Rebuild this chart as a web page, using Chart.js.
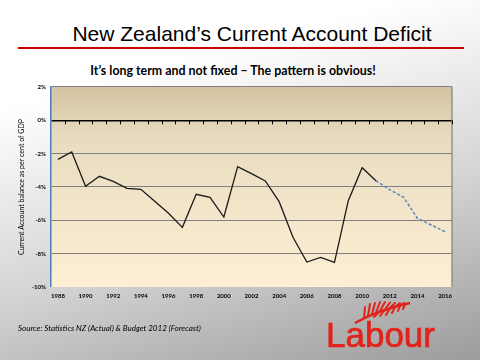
<!DOCTYPE html>
<html><head><meta charset="utf-8">
<script src="https://cdn.jsdelivr.net/npm/chart.js@4.4.0/dist/chart.umd.min.js"></script>
<style>
html,body{margin:0;padding:0;}
body{width:480px;height:360px;overflow:hidden;position:relative;
 background:linear-gradient(165deg,#ffffff 0%,#ffffff 22%,#d6d6d6 60%,#9c9c9c 100%);
 font-family:"Liberation Sans",Arial,sans-serif;}
#title{position:absolute;left:0;width:504px;top:22px;text-align:center;font-size:21px;color:#000;}
#rule{position:absolute;left:18px;width:446px;top:47px;height:2px;background:#cc0000;}
#sub{position:absolute;left:0;width:466px;top:63px;text-align:center;font-family:Lato,"Open Sans",sans-serif;font-weight:bold;font-size:12.4px;color:#000;}
#src{position:absolute;left:18px;top:323px;font-family:Lato,sans-serif;font-style:italic;font-size:8px;color:#000;}
#logo{position:absolute;left:326px;top:315px;font-family:"Liberation Sans",Arial,sans-serif;font-size:35px;color:#e2231a;-webkit-text-stroke:0.7px #e2231a;}
#fern{position:absolute;left:350px;top:298px;}
canvas{position:absolute;left:0;top:0;}
</style></head>
<body>
<div id="title">New Zealand’s Current Account Deficit</div>
<div id="rule"></div>
<div id="sub">It’s long term and not fixed – The pattern is obvious!</div>
<canvas id="c" width="480" height="360"></canvas>
<div id="src">Source: Statistics NZ (Actual) &amp; Budget 2012 (Forecast)</div>
<svg id="fern" width="70" height="32" viewBox="0 0 70 32">
 <path d="M5 25 Q28 12 60 5" stroke="#e2231a" stroke-width="2.4" fill="none"/>
 <g stroke="#e2231a" stroke-width="2" fill="none" stroke-linecap="round">
  <line x1="14" y1="20" x2="15" y2="9"/>
  <line x1="18" y1="18" x2="20" y2="6"/>
  <line x1="22" y1="16" x2="25" y2="5"/>
  <line x1="26" y1="14.5" x2="30" y2="4"/>
  <line x1="30" y1="13" x2="35" y2="4"/>
  <line x1="35" y1="11.5" x2="40" y2="4.5"/>
  <line x1="40" y1="10" x2="45" y2="5"/>
  <line x1="45" y1="9" x2="50" y2="5"/>
  <line x1="50" y1="7.5" x2="54" y2="5"/>
  <line x1="30" y1="13" x2="24" y2="19"/>
  <line x1="35" y1="11.5" x2="30" y2="18"/>
  <line x1="40" y1="10" x2="36" y2="17"/>
  <line x1="45" y1="9" x2="42" y2="15"/>
  <line x1="50" y1="7.5" x2="48" y2="13"/>
  <line x1="55" y1="6.5" x2="53" y2="11"/>
 </g>
</svg>
<div id="logo">Labour</div>
<script>
const years = ['1988','1989','1990','1991','1992','1993','1994','1995','1996','1997','1998','1999','2000','2001','2002','2003','2004','2005','2006','2007','2008','2009','2010','2011','2012','2013','2014','2015','2016'];
const actual = [-2.34,-1.9,-3.96,-3.36,-3.66,-4.08,-4.14,-4.86,-5.58,-6.42,-4.44,-4.62,-5.8,-2.78,-3.2,-3.64,-4.88,-7.02,-8.5,-8.22,-8.52,-4.82,-2.84,-3.62,null,null,null,null,null];
const forecast = [null,null,null,null,null,null,null,null,null,null,null,null,null,null,null,null,null,null,null,null,null,null,null,-3.62,-4.16,-4.62,-5.88,-6.28,-6.68];
const yTicks = [2,0,-2,-4,-6,-8,-10];

const decor = {
 id:'decor',
 beforeDraw(chart){
  const {ctx, chartArea:a} = chart;
  const g = ctx.createLinearGradient(0,a.top,0,a.bottom);
  g.addColorStop(0,'#d3c3a0');
  g.addColorStop(0.25,'#e8dcc0');
  g.addColorStop(1,'#fdefd3');
  ctx.save(); ctx.fillStyle=g; ctx.fillRect(a.left,a.top,a.right-a.left,a.bottom-a.top); ctx.restore();
 },
 afterDraw(chart){
  const {ctx, chartArea:a, scales:{x,y}} = chart;
  ctx.save();
  ctx.strokeStyle='#808080'; ctx.lineWidth=1.2;
  ctx.beginPath(); ctx.moveTo(a.right,a.top); ctx.lineTo(a.right,a.bottom); ctx.stroke();
  const y0 = y.getPixelForValue(0);
  const half = (x.getPixelForValue(1)-x.getPixelForValue(0))/2;
  ctx.strokeStyle='#000'; ctx.lineWidth=1;
  for(let i=0;i<years.length;i++){
   const px = Math.round(x.getPixelForValue(i)+half)+0.5;
   ctx.beginPath(); ctx.moveTo(px,y0); ctx.lineTo(px,y0+4); ctx.stroke();
  }
  ctx.restore();
 }
};

new Chart(document.getElementById('c'),{
 type:'line',
 data:{labels:years,datasets:[
  {data:actual,borderColor:'#1a1a1a',borderWidth:1.3,pointRadius:0,tension:0,spanGaps:false},
  {data:forecast,borderColor:'#5b84b8',borderWidth:1.5,borderDash:[3,2],pointRadius:0,tension:0}
 ]},
 options:{
  responsive:false,animation:false,
  layout:{padding:{left:0,top:87,right:28,bottom:53}},
  plugins:{legend:{display:false},tooltip:{enabled:false}},
  scales:{
   x:{offset:true,
    grid:{display:false,drawTicks:false},
    border:{display:false},
    ticks:{autoSkip:false,maxRotation:0,padding:5,color:'#000',font:{family:'Lato',size:6,weight:'bold'},
     callback:(v,i)=> i%2===0 ? years[i] : ''},
    afterFit:s=>{s.height=20;}
   },
   y:{min:-10,max:2,
    afterBuildTicks:s=>{s.ticks=yTicks.map(v=>({value:v}));},
    grid:{drawTicks:false,
     color:c=> c.tick.value===0 ? '#000' : (c.tick.value===-10 ? 'rgba(0,0,0,0)' : '#808080'),
     lineWidth:c=> c.tick.value===0 ? 1.5 : 1.1},
    border:{color:'#4a7ebb',width:1.5},
    ticks:{padding:5,color:'#000',font:{family:'Lato',size:6,weight:'bold'},callback:v=>v+'%'},
    title:{display:true,text:'Current Account balance as per cent of GDP',color:'#000',
     font:{family:'Lato',size:7},padding:{top:18,bottom:0}},
    afterFit:s=>{s.width=51;}
   }
  }
 },
 plugins:[decor]
});
</script>
</body></html>
